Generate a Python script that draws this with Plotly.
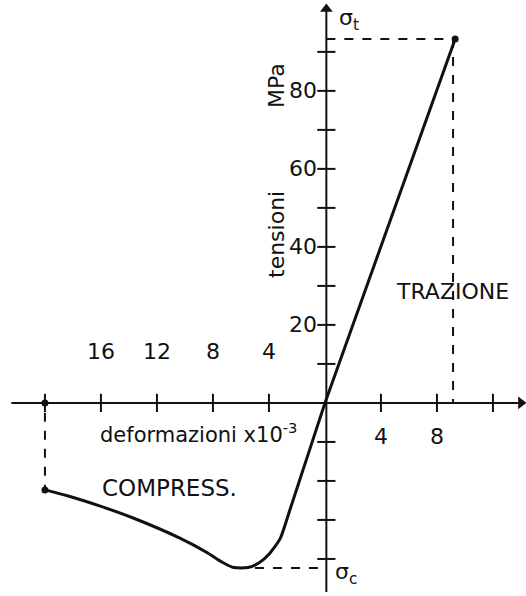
import plotly.graph_objects as go

# Strain values (x10^-3, compression negative) and stress (MPa)
tension_strain = [0.0, 9.3]
tension_stress = [0.0, 93.3]

compression_strain = [0.0, -1.25, -2.5, -3.2, -4.0, -4.7, -5.5, -6.5, -7.3,
                      -8.4, -10.4, -13.7, -16.1, -18.4, -20.0]
compression_stress = [0.0, -13.7, -27.4, -34.8, -38.8, -41.0, -42.2, -42.2,
                      -40.9, -38.4, -34.6, -29.5, -26.4, -23.8, -22.3]

sigma_t = 93.3
sigma_c = -42.3
strain_peak_t = 9.3
strain_min_c = -5.9
strain_end_c = -20.0
stress_end_c = -22.3

x_tick_vals = [-20, -16, -12, -8, -4, 4, 8, 12]
x_label_left = [-16, -12, -8, -4]
x_label_right = [4, 8]
y_tick_vals = [-40, -30, -20, -10, 10, 20, 30, 40, 50, 60, 70, 80, 90]
y_label_vals = [20, 40, 60, 80]

INK = "#111111"
FONT = "DejaVu Sans, Liberation Sans, sans-serif"

fig = go.Figure()

# axes
fig.add_trace(go.Scatter(x=[-22.4, 14.0], y=[0, 0], mode="lines",
                         line=dict(color=INK, width=2), hoverinfo="skip"))
fig.add_trace(go.Scatter(x=[0.1, 0.1], y=[-48.5, 101.0], mode="lines",
                         line=dict(color=INK, width=2), hoverinfo="skip"))
fig.add_trace(go.Scatter(x=[14.0], y=[0], mode="markers",
                         marker=dict(symbol="triangle-right", size=11, color=INK),
                         hoverinfo="skip"))
fig.add_trace(go.Scatter(x=[0.1], y=[101.0], mode="markers",
                         marker=dict(symbol="triangle-up", size=11, color=INK),
                         hoverinfo="skip"))

# tick marks
fig.add_trace(go.Scatter(x=x_tick_vals, y=[0] * len(x_tick_vals), mode="markers",
                         marker=dict(symbol="line-ns", size=13,
                                     line=dict(color=INK, width=2)),
                         hoverinfo="skip"))
fig.add_trace(go.Scatter(x=[0.1] * len(y_tick_vals), y=y_tick_vals, mode="markers",
                         marker=dict(symbol="line-ew", size=13,
                                     line=dict(color=INK, width=2)),
                         hoverinfo="skip"))

# dashed reference lines
dash = dict(color=INK, width=2, dash="dash")
fig.add_trace(go.Scatter(x=[0.1, strain_peak_t], y=[sigma_t, sigma_t], mode="lines",
                         line=dash, hoverinfo="skip"))
fig.add_trace(go.Scatter(x=[strain_peak_t - 0.15, strain_peak_t - 0.15],
                         y=[sigma_t, 0], mode="lines", line=dash, hoverinfo="skip"))
fig.add_trace(go.Scatter(x=[strain_end_c, strain_end_c], y=[-2.5, stress_end_c],
                         mode="lines", line=dash, hoverinfo="skip"))
fig.add_trace(go.Scatter(x=[strain_min_c + 0.9, -0.5], y=[sigma_c, sigma_c],
                         mode="lines", line=dash, hoverinfo="skip"))

# stress-strain curve
fig.add_trace(go.Scatter(x=tension_strain, y=tension_stress, mode="lines",
                         line=dict(color=INK, width=3), hoverinfo="skip"))
fig.add_trace(go.Scatter(x=compression_strain, y=compression_stress, mode="lines",
                         line=dict(color=INK, width=3, shape="spline", smoothing=0.6),
                         hoverinfo="skip"))
fig.add_trace(go.Scatter(x=[strain_peak_t, strain_end_c, strain_end_c],
                         y=[sigma_t, stress_end_c, 0], mode="markers",
                         marker=dict(size=7, color=INK), hoverinfo="skip"))

ann = []


def label(x, y, text, size=22, **kw):
    ann.append(dict(x=x, y=y, xref="x", yref="y", text=text, showarrow=False,
                    font=dict(family=FONT, size=size, color=INK), **kw))


for v in x_label_left:
    label(v, 13.1, str(abs(v)))
for v in x_label_right:
    label(v, -8.7, str(v))
for v in y_label_vals:
    label(0, v, str(v), xanchor="right", xshift=-6)

label(-3.5, 43.3, "tensioni", size=22, textangle=-90)
label(-3.5, 81.5, "MPa", size=22, textangle=-90)
label(-9.0, -7.6, "deformazioni x10<sup>-3</sup>", size=21)
label(-11.1, -21.8, "COMPRESS.", size=23)
label(9.1, 28.5, "TRAZIONE", size=22)
label(1.7, 98.4, "σ<sub>t</sub>", size=22)
label(1.5, -43.8, "σ<sub>c</sub>", size=22)

fig.update_layout(
    width=526, height=596,
    margin=dict(l=0, r=0, t=0, b=0),
    paper_bgcolor="white", plot_bgcolor="white",
    showlegend=False,
    xaxis=dict(range=[-23.21, 14.36], visible=False, fixedrange=True),
    yaxis=dict(range=[-49.5, 103.3], visible=False, fixedrange=True),
    annotations=ann,
)

fig.write_html("out.html")
